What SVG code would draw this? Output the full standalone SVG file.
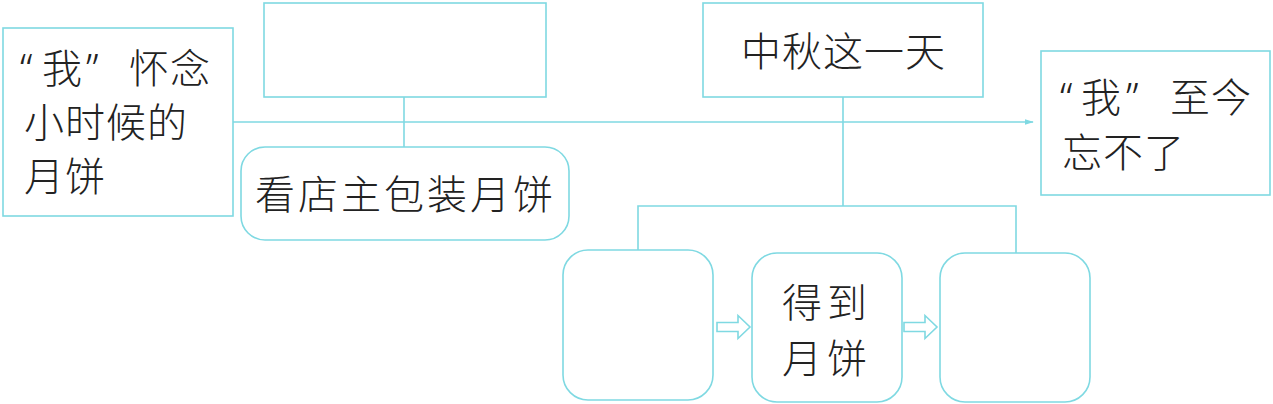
<svg xmlns="http://www.w3.org/2000/svg" width="1273" height="404" viewBox="0 0 1273 404">
<style>
.box{fill:#fff;stroke:#7fd9e2;stroke-width:1.6}
.ln{fill:none;stroke:#7fd9e2;stroke-width:1.6}
.t{font-family:"Noto Sans CJK SC","Noto Sans CJK TC",sans-serif;font-size:40px;fill:#222;font-weight:300;letter-spacing:1px}
.q{font-family:"Noto Sans","DejaVu Sans",sans-serif;letter-spacing:0}
.w{letter-spacing:3px}
</style>
<defs>
<marker id="ah" viewBox="0 0 10 10" refX="9" refY="5" markerWidth="9" markerHeight="7" markerUnits="userSpaceOnUse" orient="auto" preserveAspectRatio="none">
<path d="M0,1 L10,5 L0,9 Z" fill="#7fd9e2"/>
</marker>
</defs>
<rect width="1273" height="404" fill="#fff"/>
<g id="connectors">
<path class="ln" d="M233,122 H1033" marker-end="url(#ah)"/>
<path class="ln" d="M404,97 V147"/>
<path class="ln" d="M843,97 V206"/>
<path class="ln" d="M638,250 V206 H1016 V253"/>
<path class="box" d="M717,322.5 H738 V315.5 L750,327 L738,338.5 V331.5 H717 Z"/>
<path class="box" d="M904,322.5 H925 V315.5 L937,327 L925,338.5 V331.5 H904 Z"/>
</g>
<g id="n1">
<rect class="box" x="3" y="28" width="230" height="188"/>
<text class="t" y="83"><tspan class="q" x="20">“</tspan><tspan x="42">我</tspan><tspan class="q" x="86">”</tspan><tspan x="129">怀念</tspan></text>
<text class="t" x="24" y="137">小时候的</text>
<text class="t" x="24" y="191">月饼</text>
</g>
<g id="n2">
<rect class="box" x="264" y="3" width="282" height="94"/>
</g>
<g id="n3">
<rect class="box" x="241" y="147" width="328" height="93" rx="24"/>
<text class="t w" x="255" y="209">看店主包装月饼</text>
</g>
<g id="n4">
<rect class="box" x="703" y="3" width="280" height="94"/>
<text class="t" x="741" y="66">中秋这一天</text>
</g>
<g id="n5">
<rect class="box" x="1041" y="51" width="229" height="144"/>
<text class="t" y="112"><tspan class="q" x="1060">“</tspan><tspan x="1081">我</tspan><tspan class="q" x="1126">”</tspan><tspan x="1170">至今</tspan></text>
<text class="t" x="1062" y="167">忘不了</text>
</g>
<g id="n6">
<rect class="box" x="563" y="250" width="150" height="150" rx="25"/>
</g>
<g id="n7">
<rect class="box" x="752" y="253" width="150" height="149" rx="25"/>
<text class="t" x="782" y="317" style="letter-spacing:5px">得到</text>
<text class="t" x="782" y="373" style="letter-spacing:5px">月饼</text>
</g>
<g id="n8">
<rect class="box" x="940" y="253" width="150" height="149" rx="25"/>
</g>
</svg>
